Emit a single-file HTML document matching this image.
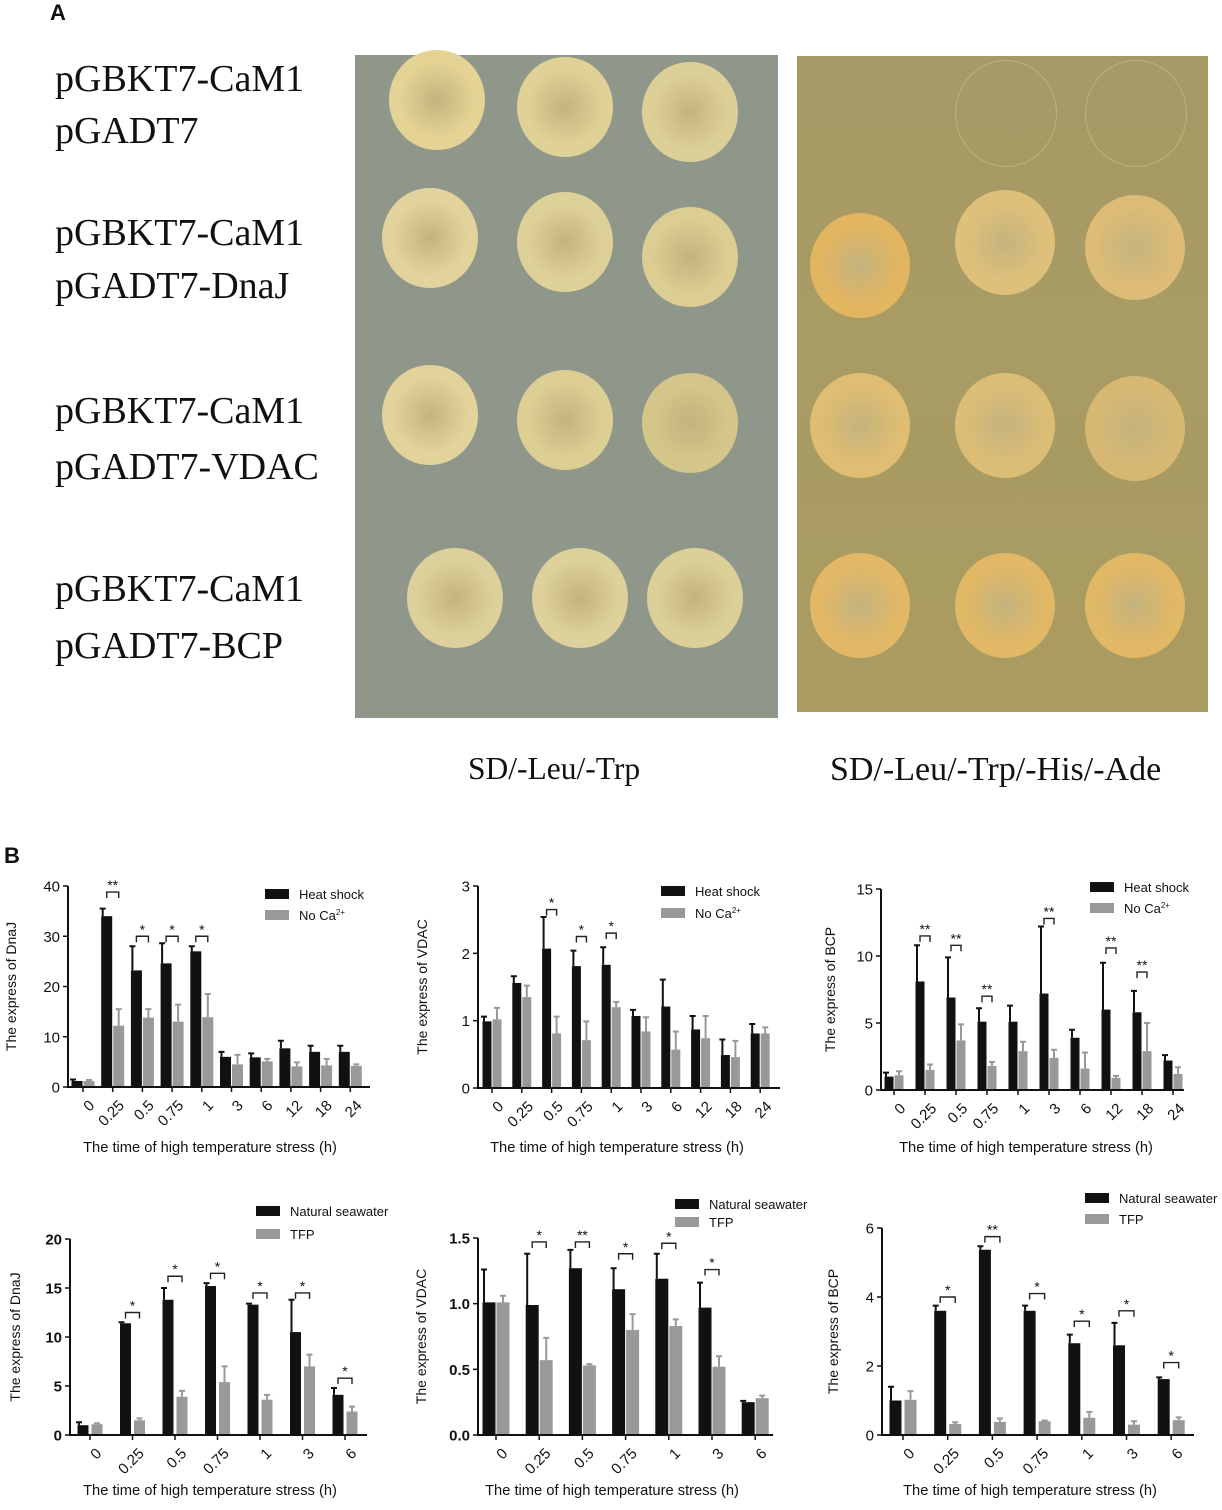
<!DOCTYPE html>
<html><head><meta charset="utf-8">
<style>
body{margin:0;width:1222px;height:1510px;background:#fff;overflow:hidden;position:relative;font-family:"Liberation Sans",sans-serif}
.lab{position:absolute;font-family:"Liberation Serif",serif;font-size:38px;color:#111;white-space:nowrap}
.plate{position:absolute}
.col{position:absolute;border-radius:50%}
</style></head><body>
<div class="lab" style="left:50px;top:0px;font-family:'Liberation Sans',sans-serif;font-weight:bold;font-size:22px">A</div>
<div class="lab" style="left:4px;top:843px;font-family:'Liberation Sans',sans-serif;font-weight:bold;font-size:22px">B</div>

<div class="lab" style="left:55px;top:57px">pGBKT7-CaM1</div>
<div class="lab" style="left:55px;top:109px">pGADT7</div>
<div class="lab" style="left:55px;top:211px">pGBKT7-CaM1</div>
<div class="lab" style="left:55px;top:264px">pGADT7-DnaJ</div>
<div class="lab" style="left:55px;top:389px">pGBKT7-CaM1</div>
<div class="lab" style="left:55px;top:445px">pGADT7-VDAC</div>
<div class="lab" style="left:55px;top:567px">pGBKT7-CaM1</div>
<div class="lab" style="left:55px;top:624px">pGADT7-BCP</div>

<div class="plate" style="left:355px;top:55px;width:423px;height:663px;background:#8f978b"></div>
<div class="plate" style="left:797px;top:56px;width:411px;height:656px;background:linear-gradient(#a69a66,#aa9c60)"></div>
<div id="cols"></div>

<div class="lab" style="left:468px;top:751px;font-size:31.5px">SD/-Leu/-Trp</div>
<div class="lab" style="left:830px;top:751px;font-size:34px">SD/-Leu/-Trp/-His/-Ade</div>

<svg id="charts" width="1222" height="1510" style="position:absolute;left:0;top:0"></svg>

<script>
const colData=[
 [437,100,'#e4d394',1],[565,107,'#e0d196',1],[690,112,'#ddcf98',1],
 [860,100,'#aa9c60',0],[1005,112,'#aa9c62',2],[1135,112,'#aa9c62',2],
 [430,238,'#e2d39c',1],[565,242,'#ded197',1],[690,257,'#dccd92',1],
 [860,265,'#e2b560',1],[1005,242,'#dec07a',1],[1135,247,'#dcbc76',1],
 [430,415,'#e2d39a',1],[565,420,'#ddce94',1],[690,423,'#d4c588',1],
 [860,425,'#dfbd72',1],[1005,425,'#dcbd76',1],[1135,428,'#d6b873',1],
 [455,598,'#ddd09a',1],[580,598,'#ddd09a',1],[695,598,'#dccf98',1],
 [860,605,'#e2b866',1],[1005,605,'#e0b866',1],[1135,605,'#e0b866',1]];
const cc=document.getElementById('cols');
colData.forEach((c,i)=>{
 if(c[3]===0)return;
 const d=document.createElement('div');
 d.className='col';
 
 
 const r=c[0]>790?50:48;
 d.style.left=(c[0]-r)+'px';d.style.top=(c[1]-r*1.05)+'px';d.style.width=2*r+'px';d.style.height=2.1*r+'px';
 if(c[3]===2){d.style.border='1.5px solid #bfb27c';}
 else{d.style.background='radial-gradient(circle,#c4b37e 0%,'+c[2]+' 55%,'+c[2]+' 85%,#cfc08a 100%)';}
 cc.appendChild(d);
});

const catsLong=["0","0.25","0.5","0.75","1","3","6","12","18","24"];
const catsShort=["0","0.25","0.5","0.75","1","3","6"];
const dnajHeat=[1.2,34,23.2,24.6,27,6,5.9,7.7,7,7];
const dnajHeatErr=[0.3,1.5,4.8,4,1,1,0.8,1.5,1.2,1.2];
const dnajNoCa=[1.2,12.2,13.8,13,13.9,4.5,5.1,4.1,4.3,4.2];
const dnajNoCaErr=[0.2,3.3,1.7,3.4,4.6,1.9,0.5,0.8,1.3,0.3];
const dnajSig=[null,["**",38.8],["*",30],["*",30],["*",30],null,null,null,null,null];
const vdacHeat=[0.99,1.56,2.07,1.81,1.83,1.07,1.21,0.87,0.49,0.81];
const vdacHeatErr=[0.07,0.1,0.47,0.23,0.26,0.09,0.4,0.2,0.23,0.14];
const vdacNoCa=[1.02,1.35,0.81,0.71,1.2,0.84,0.57,0.74,0.46,0.81];
const vdacNoCaErr=[0.17,0.17,0.25,0.28,0.08,0.21,0.27,0.33,0.24,0.09];
const vdacSig=[null,null,["*",2.65],["*",2.25],["*",2.3],null,null,null,null,null];
const bcpHeat=[1,8.1,6.9,5.1,5.1,7.2,3.9,6,5.8,2.2];
const bcpHeatErr=[0.3,2.7,3,1,1.2,5,0.6,3.5,1.6,0.4];
const bcpNoCa=[1.1,1.5,3.7,1.8,2.9,2.4,1.6,0.9,2.9,1.2];
const bcpNoCaErr=[0.3,0.4,1.2,0.3,0.7,0.6,1.2,0.15,2.1,0.5];
const bcpSig=[null,["**",11.5],["**",10.8],["**",7],null,["**",12.8],null,["**",10.6],["**",8.8],null];
const dnajSea=[1,11.4,13.8,15.2,13.3,10.5,4.1];
const dnajSeaErr=[0.3,0.1,1.2,0.3,0.1,3.3,0.7];
const dnajTfp=[1.1,1.5,3.9,5.4,3.6,7,2.4];
const dnajTfpErr=[0.1,0.2,0.6,1.6,0.5,1.2,0.5];
const dnajSig2=[null,["*",12.5],["*",16.2],["*",16.5],["*",14.5],["*",14.5],["*",5.8]];
const vdacSea=[1.01,0.99,1.27,1.11,1.19,0.97,0.25];
const vdacSeaErr=[0.25,0.39,0.14,0.16,0.19,0.19,0.01];
const vdacTfp=[1.01,0.57,0.53,0.8,0.83,0.52,0.28];
const vdacTfpErr=[0.05,0.17,0.01,0.12,0.05,0.08,0.02];
const vdacSig2=[null,["*",1.47],["**",1.47],["*",1.38],["*",1.46],["*",1.26],null];
const bcpSea=[1,3.6,5.37,3.6,2.66,2.6,1.62];
const bcpSeaErr=[0.4,0.15,0.1,0.15,0.25,0.65,0.05];
const bcpTfp=[1.02,0.32,0.38,0.4,0.5,0.3,0.43];
const bcpTfpErr=[0.25,0.05,0.1,0.02,0.17,0.1,0.08];
const bcpSig2=[null,["*",4.0],["**",5.75],["*",4.1],["*",3.3],["*",3.6],["*",2.1]];
const ticks1=[0,10,20,30,40], ticks2=[0,1,2,3], ticks3=[0,5,10,15];
const ticks4=[0,5,10,15,20], ticks5=["0.0","0.5","1.0","1.5"], ticks6=[0,2,4,6];

const NS='http://www.w3.org/2000/svg';
const svg=document.getElementById('charts');
function el(t,a,p){const e=document.createElementNS(NS,t);for(const k in a)e.setAttribute(k,a[k]);(p||svg).appendChild(e);return e;}

function chart(o){
 const g=el('g',{});
 
 
 const ymax=+o.ticks[o.ticks.length-1];
 const Y=v=>o.y0-(v/ymax)*(o.y0-o.yTop);
 const X=i=>o.c0+o.step*i;
 o.cats.forEach((c,i)=>{
  [[o.a,o.ae,'#111',-1],[o.b,o.be,'#999',1]].forEach(s=>{
   const v=s[0][i],e=s[1][i];
   const x=s[3]<0?X(i)-o.gap/2-o.bw:X(i)+o.gap/2;
   const r=el('rect',{x:x,y:Y(v),width:o.bw,height:o.y0-Y(v),fill:s[2]},g);
   
   
   const cx=s[3]<0?x+1.5:x+o.bw/2;
   const eb=el('path',{d:`M${cx} ${Y(v)}V${Y(v+e)}M${cx-3} ${Y(v+e)}H${cx+3}`,stroke:s[2],'stroke-width':2,fill:'none'},g);
   
   
  });
  const sg=o.sig[i];
  if(sg){
   const yy=Y(sg[1]), xa=X(i)-o.gap/2-o.bw/2, xb=X(i)+o.gap/2+o.bw/2;
   const br=el('path',{d:`M${xa} ${yy+6}V${yy}H${xb}V${yy+6}`,stroke:'#222','stroke-width':1.4,fill:'none'},g);
   
   
   const st=el('text',{x:(xa+xb)/2,y:yy-2,'text-anchor':'middle','font-size':14,fill:'#111'},g);
   st.textContent=sg[0];
   
   
  }
  el('line',{x1:X(i),x2:X(i),y1:o.y0,y2:o.y0+5,stroke:'#111','stroke-width':1.5},g);
  const t=el('text',{x:X(i)+5,y:o.y0+12,'text-anchor':'end','font-size':o.fs,fill:'#111',transform:`rotate(-45 ${X(i)+5} ${o.y0+12})`,'dominant-baseline':'hanging'},g);
  t.textContent=c;
  
  
 });
 el('path',{d:`M${o.ax} ${o.yTop}V${o.y0}H${o.xEnd}`,stroke:'#111','stroke-width':2,fill:'none'},g);
 o.ticks.forEach(tv=>{
  const y=Y(+tv);
  el('line',{x1:o.ax-5,x2:o.ax,y1:y,y2:y,stroke:'#111','stroke-width':1.5},g);
  const t=el('text',{x:o.ax-8,y:y+5.5,'text-anchor':'end','font-size':o.fs,fill:'#111','font-weight':o.bold?'bold':'normal'},g);
  t.textContent=tv;
  
  
 });
 const yt=el('text',{x:0,y:0,'text-anchor':'middle','font-size':14,fill:'#111',transform:`translate(${o.ylx} ${(o.y0+o.yTop)/2}) rotate(-90)`},g);
 yt.textContent=o.ylabel;
 
 
 const xt=el('text',{x:o.xtx,y:o.xty,'text-anchor':'middle','font-size':14.7,fill:'#111'},g);
 xt.textContent=o.xlabel;
 
 
 [[o.la,'#111',0],[o.lb,'#999',1]].forEach(L=>{
  const ly=o.ly+L[2]*o.ldy;
  const lr=el('rect',{x:o.lx,y:ly-5,width:24,height:10,fill:L[1]},g);
  
  
  const lt=el('text',{x:o.lx+34,y:ly+5,'font-size':13,fill:'#111'},g);
  lt.innerHTML=L[0];
  
  
 });
}
const noCa='No Ca<tspan font-size="8" dy="-5">2+</tspan>';
const xl='The time of  high temperature stress (h)';
const xl2='The time of high temperature stress (h)';
chart({name:'chart-dnaj-heat',cats:catsLong,a:dnajHeat,ae:dnajHeatErr,b:dnajNoCa,be:dnajNoCaErr,sig:dnajSig,ticks:ticks1,
 ax:68,y0:1087,yTop:886,xEnd:370,c0:83,step:29.7,bw:11,gap:1,fs:15,ylabel:'The express of DnaJ',ylx:16,xlabel:xl,xtx:210,xty:1152,
 la:'Heat shock',lb:noCa,lx:265,ly:894,ldy:21});
chart({name:'chart-vdac-heat',cats:catsLong,a:vdacHeat,ae:vdacHeatErr,b:vdacNoCa,be:vdacNoCaErr,sig:vdacSig,ticks:ticks2,
 ax:478,y0:1088,yTop:886,xEnd:780,c0:492,step:29.8,bw:9,gap:1,fs:15,ylabel:'The express of VDAC',ylx:427,xlabel:xl,xtx:617,xty:1152,
 la:'Heat shock',lb:noCa,lx:661,ly:891,ldy:22});
chart({name:'chart-bcp-heat',cats:catsLong,a:bcpHeat,ae:bcpHeatErr,b:bcpNoCa,be:bcpNoCaErr,sig:bcpSig,ticks:ticks3,
 ax:881,y0:1090,yTop:889,xEnd:1184,c0:894,step:31,bw:9,gap:1,fs:15,ylabel:'The express of BCP',ylx:835,xlabel:xl,xtx:1026,xty:1152,
 la:'Heat shock',lb:noCa,lx:1090,ly:887,ldy:21});
chart({name:'chart-dnaj-tfp',cats:catsShort,a:dnajSea,ae:dnajSeaErr,b:dnajTfp,be:dnajTfpErr,sig:dnajSig2,ticks:ticks4,
 ax:70,y0:1435,yTop:1239,xEnd:367,c0:90,step:42.5,bw:11,gap:3,fs:15,bold:true,ylabel:'The express of DnaJ',ylx:20,xlabel:xl2,xtx:210,xty:1495,
 la:'Natural seawater',lb:'TFP',lx:256,ly:1211,ldy:23});
chart({name:'chart-vdac-tfp',cats:catsShort,a:vdacSea,ae:vdacSeaErr,b:vdacTfp,be:vdacTfpErr,sig:vdacSig2,ticks:ticks5,
 ax:478,y0:1435,yTop:1238,xEnd:773,c0:496,step:43.2,bw:13,gap:1,fs:15,bold:true,ylabel:'The express of VDAC',ylx:426,xlabel:xl2,xtx:612,xty:1495,
 la:'Natural seawater',lb:'TFP',lx:675,ly:1204,ldy:18});
chart({name:'chart-bcp-tfp',cats:catsShort,a:bcpSea,ae:bcpSeaErr,b:bcpTfp,be:bcpTfpErr,sig:bcpSig2,ticks:ticks6,
 ax:882,y0:1435,yTop:1228,xEnd:1194,c0:903,step:44.7,bw:12,gap:3,fs:15,ylabel:'The express of BCP',ylx:838,xlabel:xl2,xtx:1030,xty:1495,
 la:'Natural seawater',lb:'TFP',lx:1085,ly:1198,ldy:21});
</script>
</body></html>
